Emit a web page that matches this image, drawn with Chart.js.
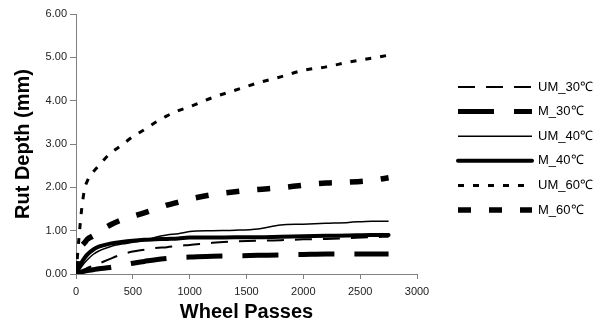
<!DOCTYPE html>
<html>
<head>
<meta charset="utf-8">
<script src="https://cdn.jsdelivr.net/npm/chart.js@4/dist/chart.umd.min.js"></script>
<style>
html,body{margin:0;padding:0;background:#fff;}
canvas{display:block;}
</style>
</head>
<body>
<canvas id="c" width="611" height="325"></canvas>
<script>
const passes = [0, 25, 50, 75, 100, 150, 200, 300, 400, 500, 600, 700, 800, 900, 1000, 1200, 1400, 1600, 1800, 2000, 2200, 2400, 2600, 2750];
const UM_30 = [0, 0.03, 0.06, 0.10, 0.14, 0.19, 0.24, 0.35, 0.45, 0.52, 0.56, 0.60, 0.62, 0.65, 0.67, 0.72, 0.75, 0.77, 0.78, 0.80, 0.81, 0.83, 0.85, 0.86];
const M_30  = [0, 0.03, 0.05, 0.07, 0.08, 0.10, 0.12, 0.15, 0.20, 0.25, 0.29, 0.33, 0.36, 0.38, 0.39, 0.41, 0.42, 0.43, 0.44, 0.45, 0.46, 0.46, 0.46, 0.46];
const UM_40 = [0, 0.08, 0.17, 0.26, 0.33, 0.45, 0.53, 0.63, 0.69, 0.73, 0.77, 0.85, 0.90, 0.93, 0.98, 1.00, 1.01, 1.04, 1.13, 1.15, 1.17, 1.19, 1.22, 1.22];
const M_40  = [0, 0.15, 0.27, 0.37, 0.45, 0.56, 0.63, 0.70, 0.74, 0.77, 0.79, 0.80, 0.81, 0.82, 0.84, 0.84, 0.85, 0.85, 0.86, 0.87, 0.88, 0.89, 0.90, 0.90];
const UM_60 = [0, 0.80, 1.50, 1.95, 2.15, 2.35, 2.50, 2.78, 2.97, 3.17, 3.33, 3.50, 3.65, 3.77, 3.86, 4.07, 4.24, 4.41, 4.55, 4.70, 4.78, 4.89, 4.98, 5.05];
const M_60  = [0, 0.55, 0.65, 0.72, 0.80, 0.88, 0.97, 1.13, 1.25, 1.33, 1.41, 1.50, 1.59, 1.66, 1.73, 1.83, 1.90, 1.95, 1.99, 2.05, 2.10, 2.12, 2.16, 2.22];
const seriesLabels = ['UM_30\u2103', 'M_30\u2103', 'UM_40\u2103', 'M_40\u2103', 'UM_60\u2103', 'M_60\u2103'];
const yTicks = [0, 1, 2, 3, 4, 5, 6];
const xTicks = [0, 500, 1000, 1500, 2000, 2500, 3000];

const seriesValues = [UM_30, M_30, UM_40, M_40, UM_60, M_60];
const styles = [
  {w: 2, dash: [17, 11], cap: 'butt'},
  {w: 5, dash: [36, 20], cap: 'butt'},
  {w: 1.5, dash: [], cap: 'butt'},
  {w: 4, dash: [], cap: 'round'},
  {w: 3, dash: [6, 9], cap: 'butt'},
  {w: 5.5, dash: [13, 18], cap: 'butt'}
];

const datasets = seriesValues.map((vals, i) => ({
  label: seriesLabels[i],
  data: vals.map((v, j) => ({x: passes[j], y: v})),
  borderColor: '#000',
  backgroundColor: '#000',
  borderWidth: styles[i].w,
  borderDash: styles[i].dash,
  borderCapStyle: styles[i].cap,
  pointRadius: 0,
  cubicInterpolationMode: 'monotone',
  fill: false
}));

const legendPlugin = {
  id: 'sideLegend',
  afterDraw(chart) {
    const ctx = chart.ctx;
    ctx.save();
    chart.data.datasets.forEach((ds, i) => {
      const y = 87 + i * 24.6;
      ctx.beginPath();
      ctx.strokeStyle = '#000';
      ctx.lineWidth = ds.borderWidth;
      ctx.setLineDash(ds.borderDash || []);
      ctx.lineCap = ds.borderCapStyle || 'butt';
      ctx.moveTo(458, y);
      ctx.lineTo(532, y);
      ctx.stroke();
      ctx.setLineDash([]);
      ctx.fillStyle = '#000';
      ctx.font = '13px "Liberation Sans", Arial, sans-serif';
      ctx.textBaseline = 'middle';
      ctx.textAlign = 'left';
      ctx.fillText(ds.label, 538, y);
    });
    ctx.restore();
  }
};

new Chart(document.getElementById('c'), {
  type: 'line',
  data: {datasets},
  plugins: [legendPlugin],
  options: {
    responsive: false,
    animation: false,
    layout: {padding: {top: 14, right: 194, bottom: 0, left: 0}},
    plugins: {legend: {display: false}, tooltip: {enabled: false}},
    scales: {
      x: {
        type: 'linear',
        min: 0, max: 3000,
        afterBuildTicks(s) { s.ticks = xTicks.map(v => ({value: v})); },
        afterFit(s) { s.height = 51; },
        grid: {drawOnChartArea: false, drawTicks: true, tickLength: 5, color: '#808080'},
        border: {display: true, color: '#808080', width: 1},
        ticks: {color: '#222', font: {family: '"Liberation Sans", Arial, sans-serif', size: 11}, padding: 6, maxRotation: 0, callback: v => String(v)},
        title: {display: true, text: 'Wheel Passes', color: '#000', font: {family: '"Liberation Sans", Arial, sans-serif', size: 20, weight: 'bold'}, padding: {top: 0, bottom: 1}}
      },
      y: {
        min: 0, max: 6,
        afterBuildTicks(s) { s.ticks = yTicks.map(v => ({value: v})); },
        afterFit(s) { s.width = 76; },
        grid: {drawOnChartArea: false, drawTicks: true, tickLength: 6, color: '#808080'},
        border: {display: true, color: '#808080', width: 1},
        ticks: {color: '#222', font: {family: '"Liberation Sans", Arial, sans-serif', size: 11}, padding: 3, callback: v => Number(v).toFixed(2)},
        title: {display: true, text: 'Rut Depth (mm)', color: '#000', font: {family: '"Liberation Sans", Arial, sans-serif', size: 20, weight: 'bold'}, padding: {top: 11, bottom: 0}}
      }
    }
  }
});
</script>
</body>
</html>
